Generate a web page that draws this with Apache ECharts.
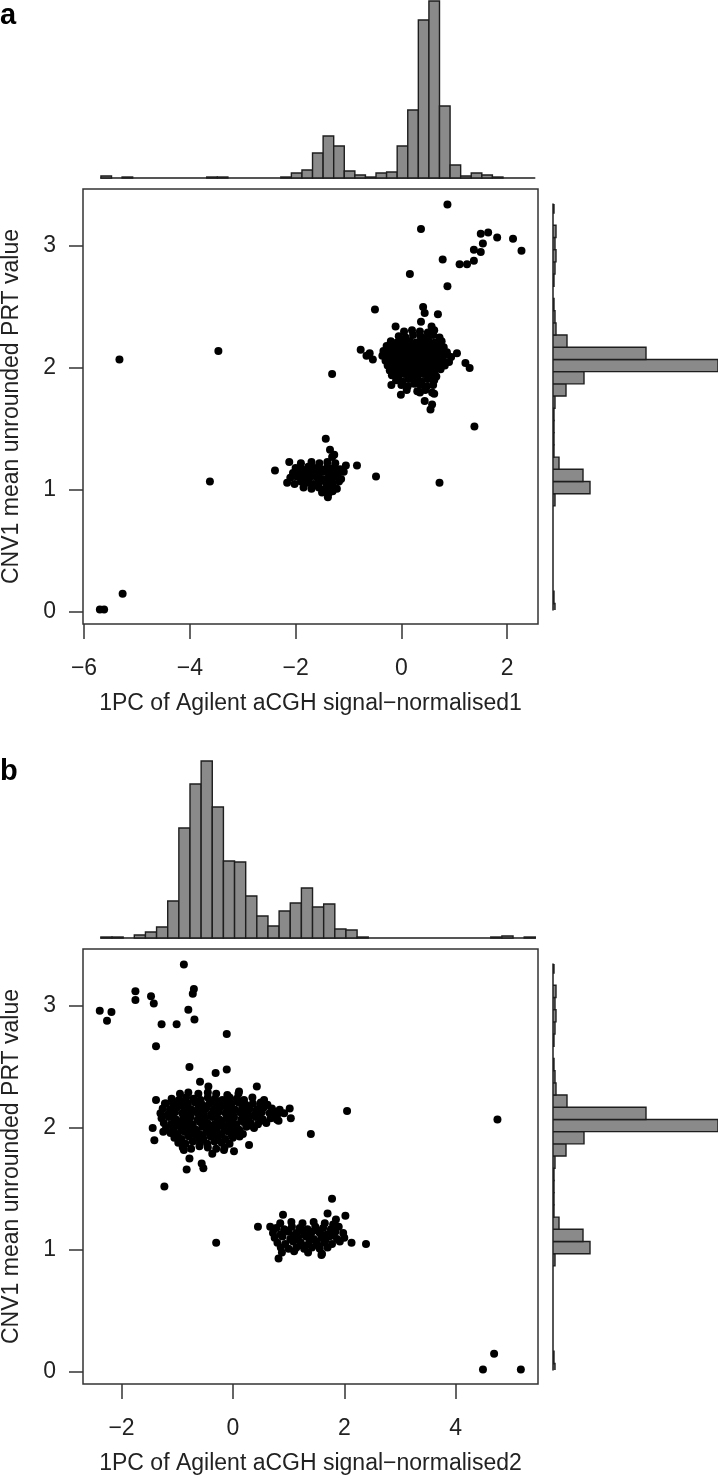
<!DOCTYPE html>
<html>
<head>
<meta charset="utf-8">
<title>CNV1 PRT vs Agilent aCGH</title>
<script src="https://cdn.jsdelivr.net/npm/echarts@6/dist/echarts.min.js"></script>
<style>
  body { margin: 0; background: #fff; }
  #chart { width: 720px; height: 1480px; }
</style>
</head>
<body>
<div id="chart"></div>
<script>
// values
var xTicksA = [-6, -4, -2, 0, 2]
var xTicksB = [-2, 0, 2, 4]
var yTicks = [0, 1, 2, 3]

var xTitleA = '1PC of Agilent aCGH signal\u2212normalised1'
var xTitleB = '1PC of Agilent aCGH signal\u2212normalised2'
var yTitle = 'CNV1 mean unrounded PRT value'

// panel a, scattered points
var outliersA = [
  [0.87, 3.34], [0.37, 3.14], [0.16, 2.77], [0.78, 2.89], [0.87, 2.67], [1.10, 2.85], [1.24, 2.85],
  [1.37, 2.88], [1.37, 2.97], [1.50, 2.95], [1.54, 3.02], [1.50, 3.10], [1.64, 3.11], [1.81, 3.07],
  [2.11, 3.06], [2.27, 2.96],
  [-0.50, 2.48], [0.41, 2.50], [0.44, 2.45], [0.69, 2.44], [0.37, 2.38], [-0.11, 2.34], [0.57, 2.34],
  [-0.77, 2.15], [-0.60, 2.12], [-0.54, 2.07], [-0.66, 2.10], [1.05, 2.12], [1.21, 2.04], [1.29, 2.00],
  [-0.19, 1.86], [-0.01, 1.78], [0.35, 1.80], [0.44, 1.73], [0.55, 1.66], [0.62, 1.79], [0.58, 1.70],
  [1.38, 1.52], [-1.31, 1.95], [-5.33, 2.07], [-3.46, 2.14],
  [-1.43, 1.42], [-1.35, 1.33], [-2.12, 1.23], [-2.39, 1.16], [-1.27, 1.29], [-1.31, 1.27], [-1.05, 1.20],
  [-0.84, 1.20], [-0.48, 1.11], [-1.39, 0.94], [-3.62, 1.07], [0.72, 1.06],
  [-5.70, 0.02], [-5.62, 0.02], [-5.27, 0.15]
]
// panel a, the two dense groups (copy number 2 and 1)
var upperA = [
  [0.05, 2.30], [0.2, 2.31], [0.35, 2.30], [0.5, 2.29], [0.62, 2.31],
  [-0.05, 2.26], [0.08, 2.25], [0.22, 2.27], [0.36, 2.26], [0.48, 2.25], [0.6, 2.27], [0.72, 2.25],
  [-0.2, 2.22], [-0.08, 2.21], [0.04, 2.23], [0.16, 2.22], [0.28, 2.21], [0.4, 2.23], [0.52, 2.22], [0.64, 2.21], [0.76, 2.22],
  [-0.28, 2.18], [-0.16, 2.17], [-0.04, 2.19], [0.08, 2.18], [0.2, 2.17], [0.32, 2.19], [0.44, 2.18], [0.56, 2.17], [0.68, 2.19], [0.8, 2.17],
  [-0.34, 2.14], [-0.22, 2.13], [-0.1, 2.15], [0.02, 2.14], [0.14, 2.13], [0.26, 2.15], [0.38, 2.14], [0.5, 2.13], [0.62, 2.15], [0.74, 2.14], [0.86, 2.13],
  [-0.36, 2.10], [-0.24, 2.11], [-0.12, 2.09], [0.0, 2.10], [0.12, 2.11], [0.24, 2.09], [0.36, 2.10], [0.48, 2.11], [0.6, 2.09], [0.72, 2.10], [0.84, 2.11], [0.94, 2.09],
  [-0.3, 2.06], [-0.18, 2.05], [-0.06, 2.07], [0.06, 2.06], [0.18, 2.05], [0.3, 2.07], [0.42, 2.06], [0.54, 2.05], [0.66, 2.07], [0.78, 2.06], [0.9, 2.05],
  [-0.26, 2.02], [-0.14, 2.01], [-0.02, 2.03], [0.1, 2.02], [0.22, 2.01], [0.34, 2.03], [0.46, 2.02], [0.58, 2.01], [0.7, 2.03], [0.82, 2.02],
  [-0.22, 1.98], [-0.1, 1.97], [0.02, 1.99], [0.14, 1.98], [0.26, 1.97], [0.38, 1.99], [0.5, 1.98], [0.62, 1.97], [0.74, 1.99],
  [-0.18, 1.94], [-0.06, 1.93], [0.06, 1.95], [0.18, 1.94], [0.3, 1.93], [0.42, 1.95], [0.54, 1.94], [0.66, 1.93],
  [-0.1, 1.90], [0.02, 1.89], [0.14, 1.91], [0.26, 1.90], [0.38, 1.89], [0.5, 1.91], [0.62, 1.90],
  [0.0, 1.86], [0.12, 1.85], [0.24, 1.87], [0.36, 1.86], [0.48, 1.85], [0.6, 1.86],
  [0.1, 1.82], [0.3, 1.81], [0.45, 1.82], [0.58, 1.80],
  // the packed middle of the group
  [-0.1, 2.20], [0.02, 2.20], [0.14, 2.20], [0.26, 2.20], [0.38, 2.20], [0.5, 2.20], [0.62, 2.20],
  [-0.16, 2.16], [-0.04, 2.16], [0.08, 2.16], [0.2, 2.16], [0.32, 2.16], [0.44, 2.16], [0.56, 2.16], [0.68, 2.16],
  [-0.18, 2.12], [-0.06, 2.12], [0.06, 2.12], [0.18, 2.12], [0.3, 2.12], [0.42, 2.12], [0.54, 2.12], [0.66, 2.12], [0.78, 2.12],
  [-0.18, 2.08], [-0.06, 2.08], [0.06, 2.08], [0.18, 2.08], [0.3, 2.08], [0.42, 2.08], [0.54, 2.08], [0.66, 2.08], [0.78, 2.08],
  [-0.12, 2.04], [0.0, 2.04], [0.12, 2.04], [0.24, 2.04], [0.36, 2.04], [0.48, 2.04], [0.6, 2.04], [0.72, 2.04],
  [-0.08, 2.00], [0.04, 2.00], [0.16, 2.00], [0.28, 2.00], [0.4, 2.00], [0.52, 2.00], [0.64, 2.00],
  [0.0, 1.96], [0.12, 1.96], [0.24, 1.96], [0.36, 1.96], [0.48, 1.96], [0.6, 1.96]
]
var lowerA = [
  [-1.9, 1.22], [-1.7, 1.23], [-1.55, 1.22], [-1.4, 1.23], [-1.25, 1.22],
  [-2.0, 1.18], [-1.88, 1.17], [-1.76, 1.19], [-1.64, 1.18], [-1.52, 1.17], [-1.4, 1.19], [-1.28, 1.18], [-1.16, 1.17],
  [-2.05, 1.14], [-1.93, 1.13], [-1.81, 1.15], [-1.69, 1.14], [-1.57, 1.13], [-1.45, 1.15], [-1.33, 1.14], [-1.21, 1.13], [-1.09, 1.15],
  [-2.1, 1.10], [-1.98, 1.11], [-1.86, 1.09], [-1.74, 1.10], [-1.62, 1.11], [-1.5, 1.09], [-1.38, 1.10], [-1.26, 1.11], [-1.14, 1.09],
  [-2.16, 1.06], [-2.02, 1.05], [-1.9, 1.07], [-1.78, 1.06], [-1.66, 1.05], [-1.54, 1.07], [-1.42, 1.06], [-1.3, 1.05], [-1.18, 1.07],
  [-1.85, 1.02], [-1.7, 1.01], [-1.56, 1.02], [-1.44, 1.01], [-1.32, 1.02], [-1.22, 1.01],
  [-1.5, 0.98], [-1.38, 0.97], [-1.3, 0.99],
  [-1.82, 1.12], [-1.58, 1.12], [-1.34, 1.12], [-1.7, 1.16], [-1.46, 1.16], [-1.22, 1.16],
  [-1.8, 1.08], [-1.56, 1.08], [-1.32, 1.08], [-1.6, 1.04], [-1.4, 1.04]
]

// panel b, scattered points
var outliersB = [
  [-0.88, 3.34], [-1.75, 3.12], [-1.75, 3.05], [-1.47, 3.08], [-1.42, 3.02], [-0.70, 3.14], [-0.72, 3.10],
  [-2.39, 2.96], [-2.18, 2.95], [-2.26, 2.88], [-0.80, 2.97], [-0.69, 2.89], [-1.28, 2.85], [-1.01, 2.85],
  [-1.38, 2.67], [-0.11, 2.77],
  [-0.78, 2.50], [-0.31, 2.45], [-0.11, 2.48], [-0.59, 2.38], [-0.44, 2.34], [0.43, 2.34], [0.11, 2.30],
  [-1.38, 2.23], [-1.22, 2.20], [0.56, 2.23], [0.53, 2.18], [1.02, 2.16], [1.04, 2.08], [0.79, 2.07],
  [0.82, 2.12], [2.05, 2.14], [4.75, 2.07], [1.40, 1.95],
  [-1.44, 2.00], [-1.41, 1.90], [-1.25, 1.97], [0.29, 1.86], [0.02, 1.81], [-0.16, 1.82], [-0.37, 1.79],
  [-0.78, 1.75], [-0.83, 1.66], [-0.56, 1.71], [-0.53, 1.67], [-1.23, 1.52], [-0.88, 1.82],
  [1.78, 1.42], [0.90, 1.29], [2.02, 1.28], [0.45, 1.19], [0.67, 1.19], [-0.30, 1.06], [2.39, 1.05],
  [2.13, 1.06], [0.82, 0.93], [1.59, 0.96],
  [4.49, 0.02], [4.69, 0.15], [5.17, 0.02]
]
var upperB = [
  [-0.95, 2.28], [-0.8, 2.29], [-0.62, 2.28], [-0.45, 2.29], [-0.3, 2.28], [-0.1, 2.27], [0.1, 2.28],
  [-1.1, 2.24], [-0.97, 2.23], [-0.84, 2.25], [-0.71, 2.24], [-0.58, 2.23], [-0.45, 2.25], [-0.32, 2.24], [-0.19, 2.23], [-0.06, 2.25], [0.07, 2.24], [0.2, 2.23], [0.35, 2.25],
  [-1.2, 2.20], [-1.07, 2.21], [-0.94, 2.19], [-0.81, 2.20], [-0.68, 2.21], [-0.55, 2.19], [-0.42, 2.20], [-0.29, 2.21], [-0.16, 2.19], [-0.03, 2.20], [0.1, 2.21], [0.23, 2.19], [0.36, 2.20], [0.5, 2.21], [0.62, 2.19],
  [-1.26, 2.16], [-1.13, 2.15], [-1.0, 2.17], [-0.87, 2.16], [-0.74, 2.15], [-0.61, 2.17], [-0.48, 2.16], [-0.35, 2.15], [-0.22, 2.17], [-0.09, 2.16], [0.04, 2.15], [0.17, 2.17], [0.3, 2.16], [0.43, 2.15], [0.56, 2.17], [0.7, 2.16], [0.84, 2.15],
  [-1.3, 2.12], [-1.17, 2.11], [-1.04, 2.13], [-0.91, 2.12], [-0.78, 2.11], [-0.65, 2.13], [-0.52, 2.12], [-0.39, 2.11], [-0.26, 2.13], [-0.13, 2.12], [0.0, 2.11], [0.13, 2.13], [0.26, 2.12], [0.39, 2.11], [0.52, 2.13], [0.66, 2.12], [0.78, 2.11], [0.92, 2.12],
  [-1.28, 2.08], [-1.15, 2.09], [-1.02, 2.07], [-0.89, 2.08], [-0.76, 2.09], [-0.63, 2.07], [-0.5, 2.08], [-0.37, 2.09], [-0.24, 2.07], [-0.11, 2.08], [0.02, 2.09], [0.15, 2.07], [0.28, 2.08], [0.41, 2.09], [0.54, 2.07], [0.68, 2.08], [0.82, 2.06],
  [-1.24, 2.04], [-1.11, 2.03], [-0.98, 2.05], [-0.85, 2.04], [-0.72, 2.03], [-0.59, 2.05], [-0.46, 2.04], [-0.33, 2.03], [-0.2, 2.05], [-0.07, 2.04], [0.06, 2.03], [0.19, 2.05], [0.32, 2.04], [0.45, 2.03], [0.6, 2.04],
  [-1.2, 2.00], [-1.07, 1.99], [-0.94, 2.01], [-0.81, 2.00], [-0.68, 1.99], [-0.55, 2.01], [-0.42, 2.00], [-0.29, 1.99], [-0.16, 2.01], [-0.03, 2.00], [0.1, 1.99], [0.24, 2.01], [0.38, 2.00],
  [-1.12, 1.96], [-0.99, 1.95], [-0.86, 1.97], [-0.73, 1.96], [-0.6, 1.95], [-0.47, 1.97], [-0.34, 1.96], [-0.21, 1.95], [-0.08, 1.97], [0.05, 1.96], [0.18, 1.95],
  [-1.05, 1.92], [-0.92, 1.91], [-0.79, 1.93], [-0.66, 1.92], [-0.53, 1.91], [-0.4, 1.93], [-0.27, 1.92], [-0.14, 1.91], [0.0, 1.92], [0.12, 1.93],
  [-0.98, 1.88], [-0.85, 1.87], [-0.72, 1.89], [-0.59, 1.88], [-0.46, 1.87], [-0.33, 1.89], [-0.2, 1.88], [-0.06, 1.87],
  [-0.9, 1.84], [-0.75, 1.83], [-0.6, 1.85], [-0.45, 1.84], [-0.3, 1.83], [-0.15, 1.84],
  // the packed middle of the group
  [-0.88, 2.22], [-0.62, 2.22], [-0.36, 2.22], [-0.1, 2.22], [0.16, 2.22],
  [-1.07, 2.18], [-0.81, 2.18], [-0.55, 2.18], [-0.29, 2.18], [-0.03, 2.18], [0.23, 2.18], [0.49, 2.18],
  [-1.1, 2.14], [-0.84, 2.14], [-0.58, 2.14], [-0.32, 2.14], [-0.06, 2.14], [0.2, 2.14], [0.46, 2.14], [0.72, 2.14],
  [-1.1, 2.10], [-0.84, 2.10], [-0.58, 2.10], [-0.32, 2.10], [-0.06, 2.10], [0.2, 2.10], [0.46, 2.10], [0.72, 2.10],
  [-1.05, 2.06], [-0.79, 2.06], [-0.53, 2.06], [-0.27, 2.06], [-0.01, 2.06], [0.25, 2.06], [0.5, 2.06],
  [-1.0, 2.02], [-0.74, 2.02], [-0.48, 2.02], [-0.22, 2.02], [0.04, 2.02], [0.3, 2.02],
  [-0.92, 1.98], [-0.66, 1.98], [-0.4, 1.98], [-0.14, 1.98], [0.12, 1.98],
  [-0.8, 1.94], [-0.54, 1.94], [-0.28, 1.94], [-0.02, 1.94]
]
var lowerB = [
  [0.85, 1.22], [1.05, 1.23], [1.25, 1.22], [1.45, 1.23], [1.65, 1.22], [1.8, 1.21],
  [0.78, 1.18], [0.92, 1.17], [1.06, 1.19], [1.2, 1.18], [1.34, 1.17], [1.48, 1.19], [1.62, 1.18], [1.76, 1.17], [1.9, 1.19],
  [0.72, 1.14], [0.86, 1.13], [1.0, 1.15], [1.14, 1.14], [1.28, 1.13], [1.42, 1.15], [1.56, 1.14], [1.7, 1.13], [1.84, 1.15], [1.98, 1.14],
  [0.75, 1.10], [0.89, 1.11], [1.03, 1.09], [1.17, 1.10], [1.31, 1.11], [1.45, 1.09], [1.59, 1.10], [1.73, 1.11], [1.87, 1.09], [2.0, 1.10],
  [0.8, 1.06], [0.94, 1.05], [1.08, 1.07], [1.22, 1.06], [1.36, 1.05], [1.5, 1.07], [1.64, 1.06], [1.78, 1.05], [1.92, 1.07],
  [0.86, 1.02], [1.0, 1.01], [1.14, 1.02], [1.28, 1.01], [1.42, 1.02], [1.56, 1.01], [1.7, 1.02],
  [0.88, 0.98], [1.1, 0.99], [1.35, 0.98], [1.6, 0.97], [1.85, 1.25], [1.7, 1.30],
  [1.1, 1.12], [1.38, 1.12], [1.66, 1.12], [0.96, 1.16], [1.24, 1.16], [1.52, 1.16], [1.8, 1.12],
  [1.1, 1.08], [1.38, 1.08], [1.66, 1.08], [1.24, 1.04], [1.52, 1.04]
]

// marginal histograms: first bin edge, bin width, counts
var histAStart = -5.68
var histAWidth = 0.2
var histACounts = [2, 0, 1, 0, 0, 0, 0, 0, 0, 0, 1, 1, 0, 0, 0, 0, 0, 1, 5, 8, 25, 42, 32, 7, 3, 1,
  5, 6, 32, 68, 158, 177, 72, 13, 2, 5, 3, 1, 0, 0, 0]
var histBStart = -2.37
var histBWidth = 0.2
var histBCounts = [1, 1, 0, 3, 6, 11, 37, 110, 154, 177, 131, 77, 76, 42, 22, 12, 27, 35, 50, 31, 34, 9, 8, 1,
  0, 0, 0, 0, 0, 0, 0, 0, 0, 0, 0, 1, 2, 0, 1]
// PRT values are the same samples in both panels
var histYStart = -0.03
var histYWidth = 0.1
var histYCounts = [2, 1, 0, 0, 0, 0, 0, 0, 0, 2, 37, 30, 6, 1, 1, 1, 1, 2, 13, 31, 165, 93, 14, 3, 2, 1, 0,
  1, 2, 3, 2, 3, 0, 1]

// layout (pixels)
var plotLeft = 83
var plotWidth = 455
var plotHeight = 435
var topA = 189
var topB = 949
var xRangeA = [-6.019, 2.582]
var xRangeB = [-2.691, 5.478]
var yRange = [-0.098, 3.467]
var font = 'Liberation Sans, Arial, Helvetica, sans-serif'
var ink = '#222'
var barStyle = { fill: '#8a8a8a', stroke: '#1e1e1e', lineWidth: 1.4 }

function bins (start, width, counts) {
  var out = []
  counts.forEach(function (c, i) {
    if (c > 0) out.push([start + i * width, start + (i + 1) * width, c])
  })
  return out
}

function minus (v) {
  return String(v).replace('-', '\u2212')
}

function vbar (params, api) {
  var lo = api.coord([api.value(0), 0])
  var hi = api.coord([api.value(1), api.value(2)])
  return { type: 'rect', shape: { x: lo[0], y: hi[1], width: hi[0] - lo[0], height: lo[1] - hi[1] }, style: barStyle }
}

function hbar (params, api) {
  var lo = api.coord([0, api.value(0)])
  var hi = api.coord([api.value(2), api.value(1)])
  return { type: 'rect', shape: { x: lo[0], y: hi[1], width: hi[0] - lo[0], height: lo[1] - hi[1] }, style: barStyle }
}

var grids = []
var xAxes = []
var yAxes = []
var series = []

function addGrid (g) {
  g.containLabel = false
  g.outerBoundsMode = 'none'
  grids.push(g)
}

function panel (top, xRange, xTicks, xTitle, pts, hStart, hWidth, hCounts) {
  var g = grids.length
  // scatter with frame
  addGrid({ left: plotLeft, top: top, width: plotWidth, height: plotHeight, show: true, borderColor: '#333', borderWidth: 1.5, backgroundColor: 'transparent' })
  xAxes.push({
    gridIndex: g, type: 'value', min: xRange[0], max: xRange[1], position: 'bottom',
    axisLine: { show: false, onZero: false }, splitLine: { show: false },
    axisTick: { show: true, length: 15, customValues: xTicks, lineStyle: { color: '#333', width: 1.5 } },
    axisLabel: { customValues: xTicks, margin: 33, fontSize: 23, color: ink, fontFamily: font, formatter: minus },
    name: xTitle, nameLocation: 'middle', nameGap: 68,
    nameTextStyle: { fontSize: 23, color: ink, fontFamily: font }
  })
  yAxes.push({
    gridIndex: g, type: 'value', min: yRange[0], max: yRange[1], position: 'left',
    axisLine: { show: false, onZero: false }, splitLine: { show: false },
    axisTick: { show: true, length: 14, customValues: yTicks, lineStyle: { color: '#333', width: 1.5 } },
    axisLabel: { customValues: yTicks, margin: 27, fontSize: 23, color: ink, fontFamily: font },
    name: yTitle, nameLocation: 'middle', nameGap: 60, nameRotate: 90,
    nameTextStyle: { fontSize: 23, color: ink, fontFamily: font }
  })
  series.push({
    type: 'scatter', xAxisIndex: g, yAxisIndex: g, data: pts,
    symbol: 'circle', symbolSize: 8, itemStyle: { color: '#000', opacity: 1 }, silent: true
  })

  // histogram above, on the same x scale as the scatter
  var pxPerX = plotWidth / (xRange[1] - xRange[0])
  var hEnd = hStart + hCounts.length * hWidth
  var maxCount = Math.max.apply(null, hCounts)
  addGrid({ left: plotLeft + (hStart - xRange[0]) * pxPerX, width: (hEnd - hStart) * pxPerX, top: top - 11 - 177, height: 177 })
  xAxes.push({
    gridIndex: g + 1, type: 'value', min: hStart, max: hEnd,
    axisLine: { show: true, onZero: false, lineStyle: { color: '#1e1e1e', width: 1.5 } },
    axisTick: { show: false }, axisLabel: { show: false }, splitLine: { show: false }
  })
  yAxes.push({ gridIndex: g + 1, type: 'value', min: 0, max: maxCount, show: false })
  series.push({
    type: 'custom', xAxisIndex: g + 1, yAxisIndex: g + 1, renderItem: vbar, silent: true,
    encode: { x: [0, 1], y: 2 }, data: bins(hStart, hWidth, hCounts)
  })

  // histogram on the right, on the same y scale as the scatter
  var pxPerY = plotHeight / (yRange[1] - yRange[0])
  var lineTop = top + 15
  var lineBottom = top + 421
  var yMax = yRange[1] - (lineTop - top) / pxPerY
  var yMin = yRange[1] - (lineBottom - top) / pxPerY
  addGrid({ left: 553, width: 165, top: lineTop, height: lineBottom - lineTop })
  xAxes.push({ gridIndex: g + 2, type: 'value', min: 0, max: Math.max.apply(null, histYCounts), show: false })
  yAxes.push({
    gridIndex: g + 2, type: 'value', min: yMin, max: yMax,
    axisLine: { show: true, onZero: false, lineStyle: { color: '#1e1e1e', width: 1.5 } },
    axisTick: { show: false }, axisLabel: { show: false }, splitLine: { show: false }
  })
  series.push({
    type: 'custom', xAxisIndex: g + 2, yAxisIndex: g + 2, renderItem: hbar, silent: true, clip: true,
    encode: { x: 2, y: [0, 1] }, data: bins(histYStart, histYWidth, histYCounts)
  })
}

panel(topA, xRangeA, xTicksA, xTitleA, outliersA.concat(upperA, lowerA), histAStart, histAWidth, histACounts)
panel(topB, xRangeB, xTicksB, xTitleB, outliersB.concat(upperB, lowerB), histBStart, histBWidth, histBCounts)

var chart = echarts.init(document.getElementById('chart'), null, { renderer: 'canvas' })
chart.setOption({
  animation: false,
  backgroundColor: '#fff',
  grid: grids,
  xAxis: xAxes,
  yAxis: yAxes,
  series: series,
  graphic: [
    { type: 'text', left: 0, top: 1, style: { text: 'a', fontSize: 29, fontWeight: 'bold', fill: '#000', fontFamily: font } },
    { type: 'text', left: 0, top: 757, style: { text: 'b', fontSize: 29, fontWeight: 'bold', fill: '#000', fontFamily: font } }
  ]
})
</script>
</body>
</html>
